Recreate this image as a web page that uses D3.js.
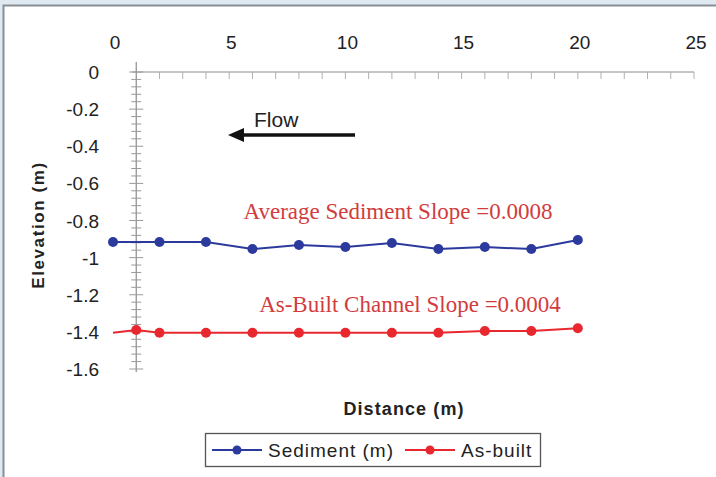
<!DOCTYPE html>
<html>
<head>
<meta charset="utf-8">
<script src="https://cdn.jsdelivr.net/npm/d3@7"></script>
<style>
  body { margin: 0; background: #fff; }
  svg { display: block; font-family: Arial, "Liberation Sans", sans-serif; }
</style>
</head>
<body>
<svg id="chart" width="716" height="477"></svg>
<script>
// data
var sedimentX = [0, 2, 4, 6, 8, 10, 12, 14, 16, 18, 20];
var sedimentY = [-0.916, -0.916, -0.916, -0.954, -0.932, -0.943, -0.921, -0.954, -0.943, -0.954, -0.905];
var asBuiltX = [0, 1, 2, 4, 6, 8, 10, 12, 14, 16, 18, 20];
var asBuiltY = [-1.405, -1.39, -1.405, -1.405, -1.405, -1.405, -1.405, -1.405, -1.405, -1.395, -1.395, -1.38];
var asBuiltMarker = [false, true, true, true, true, true, true, true, true, true, true, true];
var xTicks = [0, 5, 10, 15, 20, 25];
var yTicks = [0, -0.2, -0.4, -0.6, -0.8, -1, -1.2, -1.4, -1.6];
var legendNames = ["Sediment (m)", "As-built"];

var blue = "#2b3a9c", red = "#e8282e", noteRed = "#d23c3c";

var svg = d3.select("#chart");

// page frame
svg.append("rect").attr("width", 716).attr("height", 477).attr("fill", "#dfe9f1");
svg.append("rect").attr("x", 3.5).attr("y", 5.5).attr("width", 760).attr("height", 520)
  .attr("fill", "#fff").attr("stroke", "#8a8f96").attr("stroke-width", 2);

var x = d3.scaleLinear().domain([0, 25]).range([113, 694]);
var y = d3.scaleLinear().domain([0, -1.6]).range([72, 369]);

var axisCol = "#8c8c8c";

// x axis across the top at y = 0
svg.append("line").attr("x1", 132).attr("x2", 694).attr("y1", y(0)).attr("y2", y(0))
  .attr("stroke", axisCol).attr("stroke-width", 1.2);
svg.selectAll(".xminor").data(d3.range(2, 26, 1)).enter().append("line")
  .attr("x1", d => x(d)).attr("x2", d => x(d))
  .attr("y1", y(0)).attr("y2", y(0) + 7)
  .attr("stroke", "#b0b0b0").attr("stroke-width", 1);
svg.selectAll(".xtl").data(xTicks).enter().append("text")
  .attr("x", d => x(d) + 2).attr("y", 49)
  .attr("text-anchor", "middle").attr("font-size", 19).attr("fill", "#222")
  .text(d => d);

// y axis crossing at distance 1
var yAxisX = x(1);
svg.append("line").attr("x1", yAxisX).attr("x2", yAxisX).attr("y1", 62).attr("y2", 372)
  .attr("stroke", axisCol).attr("stroke-width", 1.2);
svg.selectAll(".yminor").data(d3.range(0, 41)).enter().append("line")
  .attr("x1", d => yAxisX - (d % 5 == 0 ? 7 : 5)).attr("x2", d => yAxisX + (d % 5 == 0 ? 7 : 5))
  .attr("y1", d => y(-d * 0.04)).attr("y2", d => y(-d * 0.04))
  .attr("stroke", "#9a9a9a").attr("stroke-width", 1);
svg.selectAll(".ytl").data(yTicks).enter().append("text")
  .attr("x", 99).attr("y", d => y(d) + 7)
  .attr("text-anchor", "end").attr("font-size", 19).attr("fill", "#222")
  .text(d => d);

// axis titles
svg.append("text").attr("x", 404).attr("y", 415).attr("text-anchor", "middle")
  .attr("font-size", 18).attr("font-weight", "bold").attr("letter-spacing", 1.1).attr("fill", "#222")
  .text("Distance (m)");
svg.append("text").attr("transform", "translate(44,225) rotate(-90)")
  .attr("text-anchor", "middle").attr("font-size", 17).attr("font-weight", "bold")
  .attr("letter-spacing", 1.6).attr("fill", "#222")
  .text("Elevation (m)");

// series
var sediment = sedimentX.map((d, i) => ({ x: d, y: sedimentY[i] }));
var asBuilt = asBuiltX.map((d, i) => ({ x: d, y: asBuiltY[i], m: asBuiltMarker[i] }));
var line = d3.line().x(d => x(d.x)).y(d => y(d.y));

svg.append("path").datum(asBuilt).attr("d", line)
  .attr("fill", "none").attr("stroke", red).attr("stroke-width", 2);
svg.selectAll(".rdot").data(asBuilt.filter(d => d.m)).enter().append("circle")
  .attr("cx", d => x(d.x)).attr("cy", d => y(d.y)).attr("r", 5).attr("fill", red);

svg.append("path").datum(sediment).attr("d", line)
  .attr("fill", "none").attr("stroke", blue).attr("stroke-width", 2);
svg.selectAll(".bdot").data(sediment).enter().append("circle")
  .attr("cx", d => x(d.x)).attr("cy", d => y(d.y)).attr("r", 5).attr("fill", blue);

// annotations
svg.append("text").attr("x", 398).attr("y", 219).attr("text-anchor", "middle")
  .attr("font-family", "'Liberation Serif', 'DejaVu Serif', serif").attr("font-size", 23)
  .attr("fill", noteRed).text("Average Sediment Slope =0.0008");
svg.append("text").attr("x", 410).attr("y", 312).attr("text-anchor", "middle")
  .attr("font-family", "'Liberation Serif', 'DejaVu Serif', serif").attr("font-size", 23)
  .attr("fill", noteRed).text("As-Built Channel Slope =0.0004");

svg.append("text").attr("x", 254).attr("y", 127).attr("font-size", 21).attr("fill", "#222").text("Flow");
svg.append("line").attr("x1", 355).attr("x2", 240).attr("y1", 135).attr("y2", 135)
  .attr("stroke", "#111").attr("stroke-width", 3.5);
svg.append("path").attr("d", "M228,135 L244,128 L244,142 Z").attr("fill", "#111");

// legend
var lg = svg.append("g");
lg.append("rect").attr("x", 205.5).attr("y", 433.5).attr("width", 335).attr("height", 33)
  .attr("fill", "#fff").attr("stroke", "#555").attr("stroke-width", 1.3);
var legendItems = [
  { name: legendNames[0], color: blue, x0: 212, tx: 268 },
  { name: legendNames[1], color: red, x0: 405, tx: 461 }
];
legendItems.forEach(function (d) {
  lg.append("line").attr("x1", d.x0).attr("x2", d.x0 + 50).attr("y1", 450).attr("y2", 450)
    .attr("stroke", d.color).attr("stroke-width", 2);
  lg.append("circle").attr("cx", d.x0 + 25).attr("cy", 450).attr("r", 4.5).attr("fill", d.color);
  lg.append("text").attr("x", d.tx).attr("y", 457).attr("font-size", 19)
    .attr("letter-spacing", 1).attr("fill", "#222").text(d.name);
});
</script>
</body>
</html>
